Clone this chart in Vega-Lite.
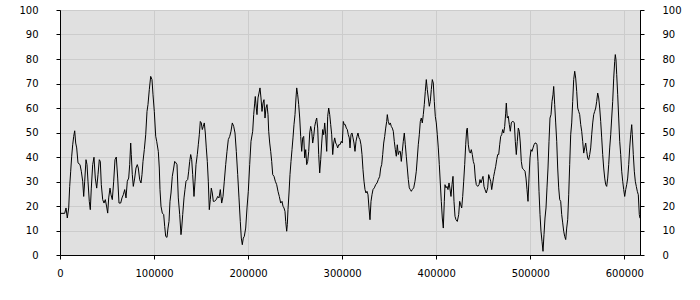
{
"$schema": "https://vega.github.io/schema/vega-lite/v6.json",
"width": 580, "height": 245,
"autosize": "none",
"padding": {"left": 60, "top": 10, "right": 60, "bottom": 45},
"background": "white",
"config": {
 "view": {"fill": "#e0e0e0", "stroke": "#000000", "strokeWidth": 1},
 "axis": {"domainColor": "#000000", "tickColor": "#000000", "labelColor": "#000000", "labelFont": "DejaVu Sans", "labelFontSize": 10, "gridColor": "#cccccc", "tickSize": 4, "title": null, "domainWidth": 1, "tickWidth": 1, "labelFlush": false, "labelOverlap": false}
},
"data": {"values": [
{"x":0,"y":17},{"x":5000,"y":17},{"x":6380,"y":19.2},{"x":7760,"y":15.1},{"x":9250,"y":19.2},{"x":10310,"y":28},{"x":11380,"y":34.2},{"x":12440,"y":40.3},{"x":13500,"y":45},{"x":14570,"y":48.4},{"x":15630,"y":50.7},{"x":16690,"y":45.7},{"x":17760,"y":43.7},{"x":19140,"y":37.6},{"x":21270,"y":36.9},{"x":22650,"y":34.2},{"x":24140,"y":30.1},{"x":25200,"y":23.9},{"x":26260,"y":30.1},{"x":27650,"y":38.9},{"x":28710,"y":36.9},{"x":29770,"y":30.1},{"x":31150,"y":21.9},{"x":32220,"y":18.5},{"x":33280,"y":27.3},{"x":34770,"y":36.9},{"x":36150,"y":39.9},{"x":37530,"y":31.4},{"x":39020,"y":27.3},{"x":40410,"y":32.8},{"x":41790,"y":38.9},{"x":42850,"y":38.2},{"x":43920,"y":28.7},{"x":45400,"y":22.6},{"x":46790,"y":21.2},{"x":48170,"y":22.6},{"x":49660,"y":19.6},{"x":50720,"y":17.1},{"x":51780,"y":23.3},{"x":53170,"y":27.3},{"x":54230,"y":24.6},{"x":55610,"y":22.6},{"x":57100,"y":30.1},{"x":58480,"y":38.9},{"x":59860,"y":40},{"x":61350,"y":31.4},{"x":62730,"y":21.2},{"x":64540,"y":21.2},{"x":65920,"y":23.3},{"x":67310,"y":24.6},{"x":68800,"y":26.7},{"x":70180,"y":23.3},{"x":71560,"y":30.1},{"x":73050,"y":31.4},{"x":74110,"y":36.9},{"x":75170,"y":45.7},{"x":75810,"y":41},{"x":76880,"y":32.8},{"x":77940,"y":28},{"x":79430,"y":31.4},{"x":80810,"y":35.5},{"x":82190,"y":36.9},{"x":83260,"y":35.5},{"x":84740,"y":30.7},{"x":86130,"y":29.4},{"x":87190,"y":32.8},{"x":88250,"y":38.2},{"x":89640,"y":43},{"x":91130,"y":49.1},{"x":92510,"y":58.6},{"x":93570,"y":61.4},{"x":94950,"y":67.5},{"x":96440,"y":72.9},{"x":97820,"y":71.6},{"x":98890,"y":65.4},{"x":100270,"y":58.6},{"x":101760,"y":48.5},
{"x":102820,"y":46.4},{"x":104520,"y":42.3},{"x":105590,"y":35.5},{"x":106330,"y":26.7},{"x":107390,"y":19.9},{"x":108780,"y":17.1},{"x":110260,"y":16.5},{"x":111330,"y":11.7},{"x":112390,"y":7.6},{"x":113770,"y":7.2},{"x":114840,"y":11},{"x":115900,"y":13.7},{"x":116960,"y":21.9},{"x":118030,"y":25.3},{"x":119410,"y":32.1},{"x":120900,"y":35.5},{"x":121960,"y":38.2},{"x":123340,"y":37.6},{"x":124410,"y":36.9},{"x":125790,"y":23.3},{"x":127280,"y":16.5},{"x":128660,"y":8.3},{"x":129410,"y":11},{"x":130470,"y":16.5},{"x":131850,"y":23.3},{"x":132910,"y":26.7},{"x":133980,"y":30.1},{"x":135780,"y":30.8},{"x":136850,"y":34.2},{"x":137910,"y":38.2},{"x":138970,"y":41},{"x":140040,"y":38.9},{"x":141100,"y":32.8},{"x":142480,"y":23.9},{"x":143550,"y":30.1},{"x":144610,"y":36.9},{"x":145990,"y":41},{"x":147060,"y":45},{"x":148120,"y":49.1},{"x":149180,"y":54.5},{"x":150250,"y":53.9},{"x":151310,"y":51.2},{"x":152370,"y":52.5},{"x":153440,"y":53.9},{"x":154500,"y":49.8},{"x":155560,"y":43.7},{"x":156630,"y":38.2},{"x":157690,"y":30.1},{"x":158750,"y":18.5},{"x":159820,"y":22.6},{"x":160880,"y":27.3},{"x":161940,"y":25.3},{"x":163010,"y":21.9},{"x":164070,"y":21.9},{"x":166190,"y":22.6},{"x":167680,"y":23.9},{"x":169060,"y":23.3},{"x":170450,"y":26.7},{"x":171940,"y":21.2},{"x":173320,"y":23.9},{"x":174700,"y":30.1},{"x":176190,"y":36.9},{"x":177570,"y":42.3},{"x":178960,"y":47.1},{"x":180440,"y":48.4},{"x":181820,"y":50.5},{"x":183210,"y":53.9},{"x":184700,"y":52.5},{"x":186080,"y":49.8},{"x":187460,"y":42.3},{"x":188950,"y":32.8},{"x":190330,"y":23.3},{"x":191710,"y":13.7},{"x":192780,"y":6.9},{"x":193840,"y":4.2},{"x":194900,"y":6.9},{"x":195970,"y":7.6},{"x":197460,"y":11},{"x":198840,"y":19.2},{"x":200220,"y":26},{"x":201710,"y":36.9},{"x":203090,"y":46.4},
{"x":204900,"y":50.5},{"x":205960,"y":57.3},{"x":207020,"y":62},{"x":207660,"y":64.7},{"x":208730,"y":60},{"x":209470,"y":57.3},{"x":210530,"y":64.1},{"x":211600,"y":66.1},{"x":212660,"y":68.2},{"x":213720,"y":64.1},{"x":214790,"y":58.6},{"x":215850,"y":62},{"x":216910,"y":63.4},{"x":217980,"y":55.9},{"x":219040,"y":60},{"x":220100,"y":61.4},{"x":221170,"y":57.3},{"x":221910,"y":50.5},{"x":222980,"y":45.7},{"x":224040,"y":42.3},{"x":225100,"y":38.2},{"x":226170,"y":32.8},{"x":227550,"y":32.1},{"x":228930,"y":30.1},{"x":230420,"y":28.7},{"x":231800,"y":26},{"x":233190,"y":23.9},{"x":234680,"y":21.2},{"x":236060,"y":21.9},{"x":237120,"y":19.9},{"x":238180,"y":19.2},{"x":239240,"y":17.8},{"x":239990,"y":13.7},{"x":241050,"y":9.7},{"x":241690,"y":12.4},{"x":242430,"y":18.5},{"x":243500,"y":25.3},{"x":244560,"y":32.8},{"x":245620,"y":38.2},{"x":246690,"y":43},{"x":247750,"y":47.8},{"x":248810,"y":53.2},{"x":249880,"y":57.3},{"x":250940,"y":64.1},{"x":251690,"y":68.2},{"x":252750,"y":65.4},{"x":253810,"y":61.4},{"x":254880,"y":55.9},{"x":255940,"y":48.4},{"x":257000,"y":42.3},{"x":258070,"y":47.8},{"x":259130,"y":48.4},{"x":260190,"y":39.6},{"x":261260,"y":43},{"x":262320,"y":36.9},{"x":263380,"y":38.2},{"x":264450,"y":42.3},{"x":265510,"y":49.8},{"x":266570,"y":52.5},{"x":267640,"y":50.5},{"x":268700,"y":45.7},{"x":269760,"y":48.4},{"x":270830,"y":52.5},{"x":271890,"y":54.5},{"x":272950,"y":55.9},{"x":274020,"y":51.8},{"x":275080,"y":41},{"x":276140,"y":33.5},{"x":277210,"y":38.9},{"x":278270,"y":45.7},{"x":279330,"y":51.2},{"x":280400,"y":49.1},{"x":281460,"y":53.9},{"x":282520,"y":49.1},{"x":283590,"y":42.3},{"x":284650,"y":56.6},{"x":285710,"y":60},{"x":286780,"y":57.3},{"x":287840,"y":53.2},{"x":288900,"y":49.1},{"x":289970,"y":41},{"x":291030,"y":45.7},{"x":292090,"y":47.8},{"x":293160,"y":45.7},{"x":294220,"y":45},{"x":295280,"y":43.7},{"x":296350,"y":45},{"x":297720,"y":45},{"x":299110,"y":46.4},{"x":300170,"y":45.7},{"x":301230,"y":54.5},{"x":302300,"y":53.2},{"x":303360,"y":53.2},{"x":304420,"y":51.8},{"x":305490,"y":51.2},{"x":306550,"y":49.1},{"x":307610,"y":47.8},{"x":308360,"y":43.7},{"x":309420,"y":49.1},{"x":310480,"y":49.8},{"x":311550,"y":47.8},{"x":312610,"y":45.7},{"x":313670,"y":42.3},{"x":314740,"y":46.4},{"x":315800,"y":48.4},{"x":316860,"y":49.8},{"x":317930,"y":47.8},{"x":318990,"y":47.1},{"x":320050,"y":45},{"x":321120,"y":41},{"x":322180,"y":34.8},{"x":323240,"y":30.1},{"x":324310,"y":26.7},{"x":325370,"y":25.3},{"x":326430,"y":26},{"x":327500,"y":24.6},{"x":328560,"y":19.2},{"x":329620,"y":14.4},{"x":330690,"y":21.9},{"x":331750,"y":24.6},{"x":332810,"y":26.7},{"x":334200,"y":27.4},{"x":335690,"y":28.7},{"x":337070,"y":29.4},{"x":338450,"y":30.8},{"x":339940,"y":32.1},{"x":341000,"y":35.5},{"x":342070,"y":36.9},{"x":343130,"y":41},{"x":344190,"y":45.7},{"x":345260,"y":48.4},{"x":346320,"y":51.8},{"x":347380,"y":54.5},{"x":348020,"y":57.3},{"x":349080,"y":54.5},{"x":350150,"y":53.2},{"x":351210,"y":53.9},{"x":352270,"y":52.5},{"x":353340,"y":51.8},{"x":354400,"y":50.5},{"x":355460,"y":46.4},{"x":356530,"y":43},{"x":357590,"y":40.3},{"x":358650,"y":45},{"x":359720,"y":41},{"x":360780,"y":42.3},{"x":361840,"y":42.3},{"x":362910,"y":38.2},{"x":363970,"y":42.3},{"x":365030,"y":46.4},{"x":366100,"y":49.8},{"x":367160,"y":45},{"x":368220,"y":40.3},{"x":369290,"y":35.5},{"x":370350,"y":30.8},{"x":371410,"y":27.4},{"x":372480,"y":26.7},{"x":373540,"y":26},{"x":374600,"y":26.7},{"x":376090,"y":27.4},{"x":377470,"y":30.1},{"x":378860,"y":34.2},{"x":379920,"y":39.6},{"x":380980,"y":45},{"x":382050,"y":49.1},{"x":383110,"y":54.5},{"x":384170,"y":55.9},{"x":385240,"y":53.9},{"x":386300,"y":57.3},{"x":387360,"y":61.4},{"x":388430,"y":66.8},{"x":389490,"y":71.6},{"x":390550,"y":67.5},{"x":391620,"y":64.1},{"x":392680,"y":60.7},{"x":393740,"y":62.7},{"x":394810,"y":67.5},{"x":395870,"y":71.6},{"x":396930,"y":70.2},{"x":398000,"y":62.7},{"x":399060,"y":56.6},{"x":400120,"y":53.9},{"x":401190,"y":49.1},{"x":402250,"y":43.7},{"x":403310,"y":36.9},{"x":404380,"y":29.4},{"x":405440,"y":21.9},{"x":406500,"y":15.1},{"x":407570,"y":11},{"x":408630,"y":21.9},{"x":409370,"y":28.7},{"x":410440,"y":27.4},{"x":411500,"y":28},{"x":412560,"y":26.7},{"x":413630,"y":29.4},{"x":414690,"y":27},{"x":415750,"y":23.9},{"x":416820,"y":28.7},{"x":417880,"y":32.1},{"x":418940,"y":21.9},{"x":420010,"y":15.8},{"x":421070,"y":14.4},{"x":422450,"y":13.7},{"x":423940,"y":16.5},{"x":425000,"y":21.9},{"x":426070,"y":20.5},{"x":427130,"y":19.2},{"x":428190,"y":23.9},{"x":429260,"y":30.1},{"x":430320,"y":36.9},{"x":431380,"y":45},{"x":432450,"y":51.2},{"x":433090,"y":51.8},{"x":434150,"y":45},{"x":435210,"y":42.3},{"x":436280,"y":41.6},{"x":437340,"y":43},{"x":438400,"y":41},{"x":439470,"y":38.2},{"x":440530,"y":36.9},{"x":441590,"y":31.4},{"x":442660,"y":28.7},{"x":444150,"y":28},{"x":445530,"y":28.7},{"x":446590,"y":30.8},{"x":447650,"y":29.4},{"x":448720,"y":30.8},{"x":449780,"y":32.1},{"x":450840,"y":28},{"x":451910,"y":26.7},{"x":453290,"y":25.3},{"x":454780,"y":27.4},{"x":455840,"y":32.8},{"x":456900,"y":31.4},{"x":457970,"y":30.1},{"x":459030,"y":26.7},{"x":460090,"y":29.4},{"x":461160,"y":32.1},{"x":462220,"y":34.2},{"x":463280,"y":36.2},{"x":464350,"y":38.9},{"x":465410,"y":41},{"x":466470,"y":41},{"x":467540,"y":45},{"x":468600,"y":48.4},{"x":469660,"y":49.1},{"x":470730,"y":51.2},{"x":471790,"y":49.8},{"x":472850,"y":52.5},{"x":473920,"y":57.9},{"x":474560,"y":62},{"x":475620,"y":55.9},{"x":476680,"y":56.6},{"x":477750,"y":53.2},{"x":478810,"y":50.5},{"x":479870,"y":53.9},{"x":480940,"y":54.5},{"x":482000,"y":54.5},{"x":483060,"y":53.9},{"x":484130,"y":46.4},{"x":485190,"y":41},{"x":486250,"y":46.4},{"x":487320,"y":51.8},{"x":488380,"y":50.5},{"x":489440,"y":45.7},{"x":490510,"y":38.2},{"x":491570,"y":35.5},{"x":493060,"y":34.8},{"x":494440,"y":34.2},{"x":495500,"y":31.4},{"x":496570,"y":26.7},{"x":497630,"y":21.9},{"x":498690,"y":31.4},{"x":499760,"y":39.6},{"x":500820,"y":43},{"x":501880,"y":42.3},{"x":502950,"y":43.7},{"x":504010,"y":45},{"x":505070,"y":45.7},{"x":506140,"y":45.7},{"x":507200,"y":45},{"x":508260,"y":38.2},{"x":509330,"y":26},{"x":510390,"y":16.5},{"x":511450,"y":9.7},{"x":512520,"y":5.6},{"x":513580,"y":1.5},{"x":514640,"y":8.3},{"x":515710,"y":15.1},{"x":516770,"y":19.2},{"x":517830,"y":27.4},{"x":518900,"y":35.5},{"x":519960,"y":46.4},{"x":521020,"y":55.9},{"x":522090,"y":57.3},{"x":523150,"y":62.7},{"x":524210,"y":65.4},{"x":524960,"y":68.8},{"x":526020,"y":61.4},{"x":527080,"y":53.9},{"x":528150,"y":46.4},{"x":529210,"y":35.5},{"x":530270,"y":27.4},{"x":531340,"y":22.6},{"x":532400,"y":21.9},{"x":533460,"y":16.5},{"x":534530,"y":13.1},{"x":535590,"y":9.7},{"x":536650,"y":7.6},{"x":537720,"y":6.3},{"x":538780,"y":11},{"x":539840,"y":14.4},{"x":540910,"y":24.6},{"x":541970,"y":36.9},{"x":543030,"y":49.1},{"x":544100,"y":53.9},{"x":545160,"y":62.7},{"x":546220,"y":71.6},{"x":547290,"y":75},{"x":548350,"y":72.2},{"x":549410,"y":66.8},{"x":550480,"y":60},{"x":551540,"y":58.6},{"x":552600,"y":57.3},{"x":553670,"y":53.2},{"x":554730,"y":50.5},{"x":555790,"y":46.4},{"x":556860,"y":41.6},{"x":557920,"y":43.7},{"x":558980,"y":45.7},{"x":560050,"y":42.3},{"x":561110,"y":39.6},{"x":562170,"y":38.9},{"x":563240,"y":41},{"x":564300,"y":43.7},{"x":565360,"y":49.1},{"x":566430,"y":53.9},{"x":567490,"y":57.3},{"x":568550,"y":58.6},{"x":569620,"y":60},{"x":570680,"y":62.7},{"x":571740,"y":66.1},{"x":572810,"y":64.1},{"x":573870,"y":60},{"x":574930,"y":54.5},{"x":576000,"y":47.8},{"x":577060,"y":41},{"x":578120,"y":35.5},{"x":579190,"y":31.4},{"x":580250,"y":28.7},{"x":581310,"y":28},{"x":582380,"y":31.4},{"x":583440,"y":36.9},{"x":584500,"y":43.7},{"x":585570,"y":49.1},{"x":586630,"y":55.9},{"x":587690,"y":62.7},{"x":588760,"y":72.2},{"x":589820,"y":79},{"x":590460,"y":81.8},{"x":591200,"y":79.7},{"x":591950,"y":73.6},{"x":593010,"y":65.4},{"x":594070,"y":55.9},{"x":595140,"y":46.4},{"x":596200,"y":41},{"x":597260,"y":34.2},{"x":598330,"y":30.1},{"x":599390,"y":26.7},{"x":600450,"y":23.9},{"x":601520,"y":26.7},{"x":602580,"y":28.7},{"x":603640,"y":31.4},{"x":604710,"y":36.9},{"x":605770,"y":43.7},{"x":606830,"y":49.1},{"x":607900,"y":53.2},{"x":608540,"y":49.1},{"x":609600,"y":41},{"x":610660,"y":34.2},{"x":611730,"y":30.1},{"x":612790,"y":28},{"x":613850,"y":26},{"x":614920,"y":24.6},{"x":615980,"y":16.5},{"x":616720,"y":15}
]},
"layer": [
 {"mark": {"type": "line", "color": "#000000", "strokeWidth": 1},
  "encoding": {
   "x": {"field": "x", "type": "quantitative", "scale": {"domain": [0, 616720], "nice": false, "zero": false},
         "axis": {"values": [0, 100000, 200000, 300000, 400000, 500000, 600000], "format": "d", "grid": true, "labelPadding": 9}},
   "y": {"field": "y", "type": "quantitative", "scale": {"domain": [0, 100], "nice": false},
         "axis": {"orient": "left", "values": [0,10,20,30,40,50,60,70,80,90,100], "grid": true, "labelPadding": 18}}
  }},
 {"mark": {"type": "line", "color": "#000000", "opacity": 0},
  "encoding": {
   "x": {"field": "x", "type": "quantitative", "scale": {"domain": [0, 616720], "nice": false, "zero": false},
         "axis": {"values": [0, 100000, 200000, 300000, 400000, 500000, 600000], "format": "d", "grid": true, "labelPadding": 9}},
   "y": {"field": "y", "type": "quantitative", "scale": {"domain": [0, 100], "nice": false},
         "axis": {"orient": "right", "values": [0,10,20,30,40,50,60,70,80,90,100], "grid": false, "labelPadding": 18}}
  }}
],
"resolve": {"axis": {"y": "independent"}}
}
